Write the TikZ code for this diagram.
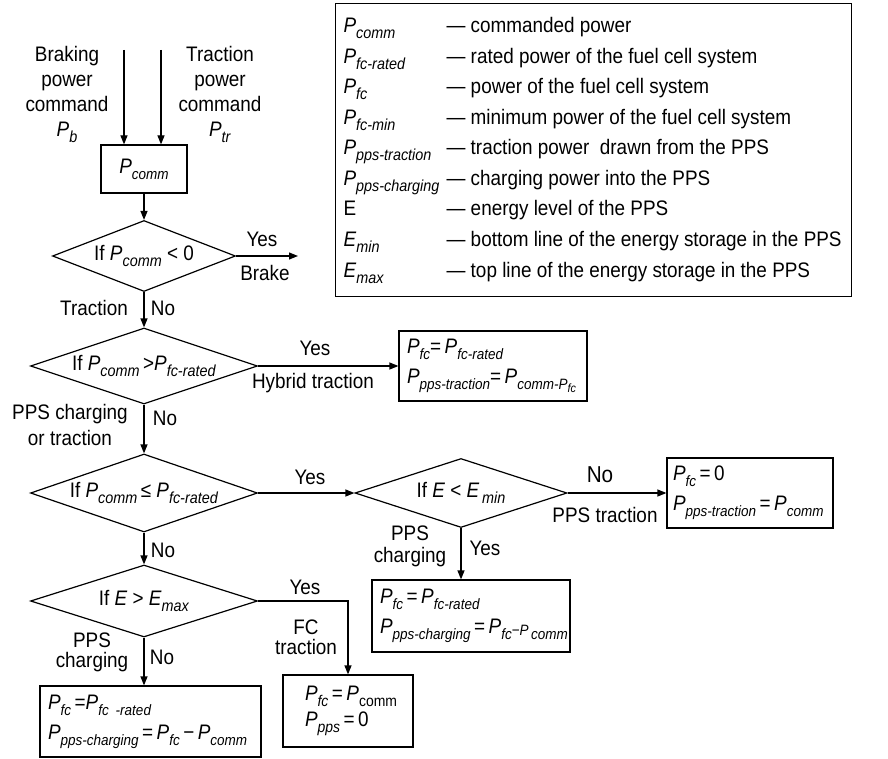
\documentclass[tikz,border=0pt]{standalone}
\usepackage{fontspec}
\setmainfont{Liberation Sans}[FakeStretch=0.9]
\usetikzlibrary{shapes.geometric,arrows.meta}
\newcommand\subfnt{\fontsize{16}{16}\selectfont}
\newcommand\tinyfnt{\fontsize{12}{12}\selectfont}
\newcommand\Sb[2]{\textit{#1}\raisebox{-6pt}{\subfnt\textit{#2}}}
\begin{document}
\begin{tikzpicture}[x=1pt,y=-1pt,
  font=\fontsize{21}{25}\selectfont,
  line width=1.2pt,
  arr/.style={-{Triangle[length=9pt,width=7pt]}},
  dia/.style={draw, diamond, inner sep=0pt, aspect=3},
  box/.style={draw, rectangle, inner xsep=8pt, inner ysep=0pt, align=left,
    font={\fontsize{21}{30}\selectfont\def\subfnt{\fontsize{15}{15}\selectfont}}},
  lbl/.style={inner sep=0pt, align=center}]
\useasboundingbox (0,0) rectangle (888,759);

% legend
\node[draw, minimum width=516pt, minimum height=293pt, anchor=north west, inner sep=0pt] (leg) at (335,3) {};
\foreach \s/\d [count=\i] in {
  {\Sb{P}{comm}}/{commanded power},
  {\Sb{P}{fc-rated}}/{rated power of the fuel cell system},
  {\Sb{P}{fc}}/{power of the fuel cell system},
  {\Sb{P}{fc-min}}/{minimum power of the fuel cell system},
  {\Sb{P}{pps-traction}}/{traction power\ \ drawn from the PPS},
  {\Sb{P}{pps-charging}}/{charging power into the PPS},
  {E}/{energy level of the PPS},
  {\Sb{E}{min}}/{bottom line of the energy storage in the PPS},
  {\Sb{E}{max}}/{top line of the energy storage in the PPS}}
{
  \node[anchor=base west, inner sep=0pt] (ls\i) at ({343},{33+30.5*(\i-1)}) {\s};
  \node[anchor=base west, inner sep=0pt] (ld\i) at ({446},{33+30.5*(\i-1)}) {— \d};
}

% inputs
\node[box, align=center, minimum width=86pt, minimum height=48pt] (pc) at (144,169) {\Sb{P}{comm}};
\coordinate (inb) at (124,50);
\coordinate (int) at (161,50);
\node[lbl] (lb) at (67,94) {Braking\\power\\command\\\Sb{P}{b}};
\node[lbl] (lt) at (220,94) {Traction\\power\\command\\\Sb{P}{tr}};

% decisions
\node[dia, minimum width=183pt, minimum height=71pt] (d1) at (144,256) {If \Sb{P}{comm} < 0};
\node[dia, minimum width=227pt, minimum height=76pt] (d2) at (144,366) {If \Sb{P}{comm}\,>\Sb{P}{fc-rated}};
\node[dia, minimum width=227pt, minimum height=78pt] (d3) at (144,493) {If \Sb{P}{comm}\,≤ \Sb{P}{fc-rated}};
\node[dia, minimum width=227pt, minimum height=72pt] (d4) at (144,601) {If \textit{E} > \Sb{E}{max}};
\node[dia, minimum width=212pt, minimum height=69pt] (d5) at (461,493) {If \textit{E} < \Sb{E}{\,min}};
\coordinate (brk) at (298,256);

% result boxes
\node[box, text width=172pt, minimum height=70pt] (bh) at (493,366)
  {\mbox{\Sb{P}{fc}=\,\Sb{P}{fc-rated}}\\
   \mbox{\Sb{P}{pps-traction}=\,\textit{P}\raisebox{-6pt}{\subfnt\textit{comm-P}\raisebox{-3pt}{\tinyfnt\textit{fc}}}}};
\node[box, inner xsep=6pt, text width=154pt, minimum height=70pt] (bt) at (750,493)
  {\mbox{\Sb{P}{fc}\,=\,0}\\ \mbox{\Sb{P}{pps-traction}\,=\,\Sb{P}{comm}}};
\node[box, text width=182pt, minimum height=72pt] (bc) at (471,616)
  {\mbox{\Sb{P}{fc}\,=\,\Sb{P}{fc-rated}}\\
   \mbox{\Sb{P}{pps-charging}\,=\,\Sb{P}{fc}\raisebox{-2pt}{\subfnt−\textit{P}}\raisebox{-6pt}{\subfnt\textit{\,comm}}}};
\node[box, text width=100pt, inner xsep=15pt, minimum height=72pt,
  font={\fontsize{21}{26}\selectfont\def\subfnt{\fontsize{15.5}{15.5}\selectfont}}] (bf) at (348,711)
  {\mbox{\hspace*{7pt}\Sb{P}{fc}\,=\,\textit{P}\raisebox{-6pt}{\subfnt comm}}\\ \mbox{\hspace*{7pt}\Sb{P}{pps}\,=\,0}};
\node[box, text width=205pt, minimum height=71pt] (bl) at (150.5,721.5)
  {\mbox{\Sb{P}{fc}\,=\Sb{P}{fc -rated}}\\
   \mbox{\Sb{P}{pps-charging}\,=\,\Sb{P}{fc}\,−\,\Sb{P}{comm}}};

% connectors
\draw[arr] (inb) -- (inb |- pc.north);
\draw[arr] (int) -- (int |- pc.north);
\draw[arr] (pc.south) -- (d1.north);
\draw[arr] (d1.east) -- (brk);
\draw[arr] (d1.south) -- (d2.north);
\draw[arr] (d2.east) -- (bh.west);
\draw[arr] (d2.south) -- (d3.north);
\draw[arr] (d3.east) -- (d5.west);
\draw[arr] (d5.east) -- (bt.west);
\draw[arr] (d5.south) -- (d5.south |- bc.north);
\draw[arr] (d3.south) -- (d4.north);
\draw[arr] (d4.east) -| (bf.north);
\draw[arr] (d4.south) -- (d4.south |- bl.north);

% connector labels
\node[lbl] (y1) at (262,239) {Yes};
\node[lbl] (k1) at (265,273) {Brake};
\node[lbl] (t1) at (94,308) {Traction};
\node[lbl] (n1) at (163,308) {No};
\node[lbl] (y2) at (315,348) {Yes};
\node[lbl] (k2) at (313,383) {Hybrid traction};
\node[lbl, font=\fontsize{21}{26}\selectfont] (t2) at (70,425) {PPS charging\\or traction};
\node[lbl] (n2) at (165,418) {No};
\node[lbl] (y3) at (310,477) {Yes};
\node[lbl] (n3) at (163,550) {No};
\node[lbl, font=\fontsize{23}{23}\selectfont] (n5) at (600,475) {No};
\node[lbl] (k5) at (605,515) {PPS traction};
\node[lbl, font=\fontsize{21}{22}\selectfont] (t5) at (410,546) {PPS\\charging};
\node[lbl] (y5) at (485,548) {Yes};
\node[lbl] (y4) at (305,587) {Yes};
\node[lbl, font=\fontsize{21}{20}\selectfont] (k4) at (306,637) {FC\\traction};
\node[lbl, font=\fontsize{21}{20}\selectfont] (t4) at (92,652) {PPS\\charging};
\node[lbl] (n4) at (162,657) {No};
\end{tikzpicture}
\end{document}
